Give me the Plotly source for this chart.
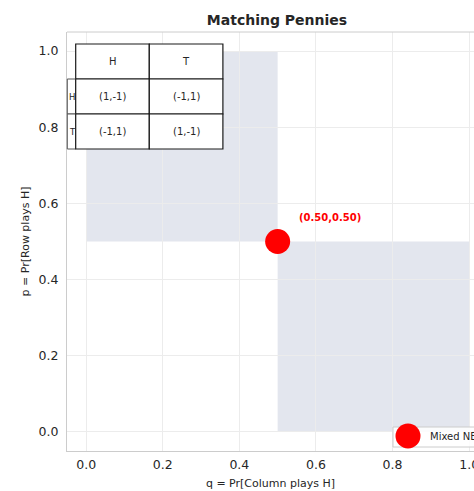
import plotly.graph_objects as go

# ---- data -------------------------------------------------------------
ne_q = [0.5]          # Column player's probability of H at the mixed NE
ne_p = [0.5]          # Row player's probability of H at the mixed NE
col_actions = ["H", "T"]
row_actions = ["H", "T"]
payoffs = [["(1,-1)", "(-1,1)"],
           ["(-1,1)", "(1,-1)"]]
# best-response regions (q0, q1, p0, p1)
regions = [(0.0, 0.5, 0.5, 1.0),
           (0.5, 1.0, 0.0, 0.5)]
tick_vals = [0.0, 0.2, 0.4, 0.6, 0.8, 1.0]

# ---- geometry ---------------------------------------------------------
W, H = 474, 491
ML, MR, MT, MB = 67, 0, 32, 40
PW, PH = W - ML - MR, H - MT - MB
PX_PER_UNIT_X = 383.0
X0 = -0.05
X1 = X0 + PW / PX_PER_UNIT_X
Y_RANGE = [-0.05, 1.05]


def px_x(px):
    return (px - ML) / PW


def px_y(py):
    return (H - MB - py) / PH


FONT = "DejaVu Sans"
TXT = "#262626"
SHADE = "#e3e6ee"
GRID = "#ececec"
SPINE = "#cccccc"

fig = go.Figure()

# mixed equilibrium
fig.add_trace(go.Scatter(
    x=ne_q, y=ne_p, mode="markers", name="Mixed NE",
    marker=dict(size=25, color="#ff0000", line=dict(width=0)),
    showlegend=False, hoverinfo="skip",
))

shapes = []
annotations = []

# best-response shading
for q0, q1, p0, p1 in regions:
    shapes.append(dict(type="rect", xref="x", yref="y", x0=q0, x1=q1, y0=p0, y1=p1,
                       fillcolor=SHADE, line=dict(width=0), layer="below"))

# top spine
shapes.append(dict(type="line", xref="paper", yref="paper", x0=0, x1=1, y0=1, y1=1,
                   line=dict(color=SPINE, width=1)))

# payoff table
t_left, t_top = px_x(75.7), px_y(44)
cw, rh = (149.3 - 75.7) / PW, 35.0 / PH
rl_w = (75.7 - 67.3) / PW
line_dark = dict(color="#1a1a1a", width=1.2)
cell_font = dict(family=FONT, size=10, color=TXT)
for j, lab in enumerate(col_actions):
    x0 = t_left + j * cw
    shapes.append(dict(type="rect", xref="paper", yref="paper", x0=x0, x1=x0 + cw,
                       y0=t_top - rh, y1=t_top, fillcolor="white", line=line_dark, layer="above"))
    annotations.append(dict(xref="paper", yref="paper", x=x0 + cw / 2, y=t_top - rh / 2,
                            xanchor="center", yanchor="middle",
                            text=lab, showarrow=False, font=cell_font))
for i, rlab in enumerate(row_actions):
    y1 = t_top - (i + 1) * rh
    shapes.append(dict(type="rect", xref="paper", yref="paper", x0=t_left - rl_w, x1=t_left,
                       y0=y1 - rh, y1=y1, fillcolor="white", line=dict(color="#555555", width=1),
                       layer="above"))
    annotations.append(dict(xref="paper", yref="paper", x=t_left - rl_w, y=y1 - rh / 2,
                            xanchor="left", yanchor="middle", text=rlab, showarrow=False,
                            font=dict(family=FONT, size=8.5, color=TXT)))
    for j, cell in enumerate(payoffs[i]):
        x0 = t_left + j * cw
        shapes.append(dict(type="rect", xref="paper", yref="paper", x0=x0, x1=x0 + cw,
                           y0=y1 - rh, y1=y1, fillcolor="white", line=line_dark, layer="above"))
        annotations.append(dict(xref="paper", yref="paper", x=x0 + cw / 2, y=y1 - rh / 2,
                                xanchor="center", yanchor="middle",
                                text=cell, showarrow=False, font=cell_font))

# equilibrium label
for q, p in zip(ne_q, ne_p):
    annotations.append(dict(xref="x", yref="y", x=q, y=p, xanchor="left", yanchor="middle",
                            xshift=19, yshift=24, text=f"<b>({q:.2f},{p:.2f})</b>",
                            showarrow=False, font=dict(family=FONT, size=10, color="#ff0000")))

# legend box (drawn by hand so the marker keeps its full size)
lg_x0, lg_y0, lg_y1 = px_x(393), px_y(447), px_y(427)
shapes.append(dict(type="rect", xref="paper", yref="paper", x0=lg_x0, x1=1.2, y0=lg_y0, y1=lg_y1,
                   fillcolor="rgba(255,255,255,0.85)", line=dict(color=SPINE, width=1),
                   layer="above"))
mx, my, mr = px_x(408), px_y(436), 12.5
shapes.append(dict(type="circle", xref="paper", yref="paper",
                   x0=mx - mr / PW, x1=mx + mr / PW, y0=my - mr / PH, y1=my + mr / PH,
                   fillcolor="#ff0000", line=dict(width=0), layer="above"))
annotations.append(dict(xref="paper", yref="paper", x=px_x(428), y=my, xanchor="left",
                        yanchor="middle", text="Mixed NE", showarrow=False,
                        font=dict(family=FONT, size=10, color=TXT)))

axis_common = dict(
    tickvals=tick_vals, ticktext=[f"{v:.1f}" for v in tick_vals],
    showgrid=True, gridcolor=GRID, gridwidth=1, zeroline=False,
    showline=True, linecolor=SPINE, linewidth=1, ticks="",
    tickfont=dict(family=FONT, size=12.5, color=TXT),
)

fig.update_layout(
    width=W, height=H,
    margin=dict(l=ML, r=MR, t=MT, b=MB, autoexpand=False),
    paper_bgcolor="white", plot_bgcolor="white",
    title=dict(text="<b>Matching Pennies</b>", xref="paper", x=px_x(277), xanchor="center",
               yref="container", y=1 - 20 / H, yanchor="middle",
               font=dict(family=FONT, size=14, color=TXT)),
    xaxis=dict(range=[X0, X1], title=dict(text="q = Pr[Column plays H]",
                                          font=dict(family=FONT, size=11, color=TXT), standoff=8),
               automargin=False, ticklabelstandoff=2, ticklabeloverflow="allow", **axis_common),
    yaxis=dict(range=Y_RANGE, title=dict(text="p = Pr[Row plays H]",
                                         font=dict(family=FONT, size=11, color=TXT), standoff=6),
               automargin=False, ticklabelstandoff=5, **axis_common),
    shapes=shapes, annotations=annotations, showlegend=False,
)

fig.write_html("out.html")
